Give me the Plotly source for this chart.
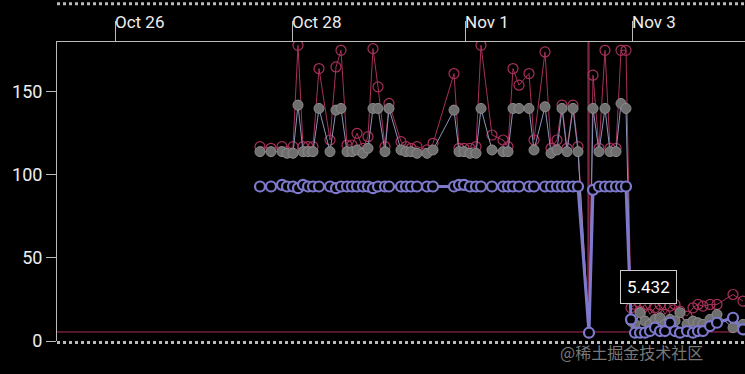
import plotly.graph_objects as go

# time positions (arbitrary time units along the axis)
t = [20.3, 21.4, 22.5, 23.0, 23.6, 24.1, 24.6, 25.1, 25.6, 26.2, 27.3, 27.9, 28.4, 29.0, 29.5,
     30.0, 30.6, 31.1, 31.6, 32.1, 32.8, 33.2, 34.4, 34.9, 35.4, 36.0, 37.0, 37.6, 39.7, 40.2,
     40.7, 41.3, 41.9, 42.4, 43.5, 44.6, 45.1, 45.6, 46.2, 47.2, 47.7, 48.8, 49.4, 50.0, 50.5,
     51.0, 51.6, 52.1, 53.2, 53.6, 54.2, 54.8, 55.3, 55.9, 56.4, 56.9,
     57.4, 57.8, 58.3, 58.8, 59.3, 59.8, 60.3, 60.8, 61.3, 61.8, 62.3, 63.0, 63.6, 64.1, 64.6,
     65.3, 66.0, 67.6, 68.6]

red = [117, 116, 117, 114, 117, 178, 117, 117, 117, 164, 121, 165, 175, 118, 118,
       125, 116, 123, 176, 153, 117, 143, 120, 117, 116, 117, 115, 119, 161, 116,
       116, 116, 117, 178, 124, 121, 117, 164, 154, 161, 121, 174, 116, 121, 142,
       116, 142, 117, 5, 160, 116, 175, 116, 116, 175, 175,
       20, 22, 18, 22, 16, 20, 22, 16, 21, 22, 18, 15, 20, 22, 21,
       22, 22, 28, 24]

gray = [114, 114, 114, 113, 113, 142, 114, 114, 114, 140, 114, 139, 140, 114, 114,
        115, 113, 116, 140, 140, 114, 140, 115, 114, 114, 113, 113, 115, 139, 114,
        114, 113, 113, 140, 115, 114, 114, 140, 140, 140, 115, 141, 113, 115, 140,
        114, 140, 114, 5, 140, 114, 140, 114, 114, 143, 140,
        12, 10, 17, 12, 10, 13, 14, 10, 13, 12, 17, 10, 12, 11, 10,
        13, 16, 8, 10]

purple = [93, 93, 94, 93, 93, 92, 94, 93, 93, 93, 93, 92, 93, 93, 93,
          93, 93, 93, 92, 93, 93, 93, 93, 93, 93, 93, 93, 93, 93, 94,
          94, 93, 93, 93, 93, 93, 93, 93, 93, 93, 93, 93, 93, 93, 93,
          93, 93, 93, 5, 91, 93, 93, 93, 93, 93, 93,
          13, 5, 5, 5, 6, 8, 6, 6, 11, 6, 5, 6, 5, 6, 6,
          9, 11, 14, 7]

# red spike that shoots off the top of the chart at the dip
spike_t = [52.1, 53.1, 53.15, 53.2]
spike_v = [117, 5, 3000, 5]

tick_pos = [5.8, 23.5, 40.8, 57.5]
tick_text = ["Oct 26", "Oct 28", "Nov 1", "Nov 3"]

threshold = 5.432
tooltip_t = 59.1
tooltip_v = 32.5

RED = "#a8305a"
GRAY_LINE = "#8a96b8"
PURPLE = "#7d79cc"

fig = go.Figure()

fig.add_trace(go.Scatter(x=spike_t, y=spike_v, mode="lines",
                         line=dict(color=RED, width=1), hoverinfo="skip", showlegend=False))
fig.add_trace(go.Scatter(x=t, y=red, mode="lines+markers",
                         line=dict(color=RED, width=1),
                         marker=dict(size=10, color="rgba(0,0,0,0)", line=dict(color=RED, width=1.2)),
                         showlegend=False))
fig.add_trace(go.Scatter(x=t, y=gray, mode="lines+markers",
                         line=dict(color=GRAY_LINE, width=1),
                         marker=dict(size=10, color="#6e6e6e", line=dict(color="#8c8c8c", width=1)),
                         showlegend=False))
fig.add_trace(go.Scatter(x=t, y=purple, mode="lines+markers",
                         line=dict(color=PURPLE, width=3),
                         marker=dict(size=10, color="#000000", line=dict(color=PURPLE, width=2.2)),
                         showlegend=False))

# threshold line
fig.add_shape(type="line", xref="paper", x0=0, x1=1, yref="y", y0=threshold, y1=threshold,
              line=dict(color=RED, width=1), layer="below")
# dotted brush-like bands at bottom and top
fig.add_shape(type="line", xref="paper", x0=0, x1=1, yref="paper", y0=-0.005, y1=-0.005,
              line=dict(color="#bbbbbb", width=3, dash="dot"))
fig.add_shape(type="line", xref="paper", x0=0, x1=1, yref="paper", y0=1.128, y1=1.128,
              line=dict(color="#bbbbbb", width=3, dash="dot"))

annotations = []
for p, s in zip(tick_pos, tick_text):
    annotations.append(dict(x=p, xref="x", y=1.067, yref="paper", text=s, showarrow=False,
                            xanchor="left", yanchor="middle", xshift=-2,
                            font=dict(family="Roboto", size=17, color="#eeeeee")))
annotations.append(dict(x=tooltip_t, xref="x", y=tooltip_v, yref="y", text=str(threshold),
                        showarrow=False, xanchor="center", yanchor="middle", bgcolor="#000000",
                        bordercolor="#cccccc", borderwidth=1, borderpad=6,
                        font=dict(family="Roboto", size=17, color="#ffffff")))
annotations.append(dict(x=0.835, xref="paper", y=-0.037, yref="paper", text="@稀土掘金技术社区",
                        showarrow=False, xanchor="center", yanchor="middle",
                        font=dict(family="Noto Sans CJK SC", size=16, color="rgba(160,160,160,0.75)")))

fig.update_layout(
    width=745, height=374,
    margin=dict(l=57, r=0, t=42, b=33),
    paper_bgcolor="#000000", plot_bgcolor="#000000",
    annotations=annotations,
    hovermode=False,
    xaxis=dict(range=[0, 68.8], side="top", showgrid=False, zeroline=False,
               showline=True, linecolor="#bbbbbb", linewidth=1,
               tickvals=tick_pos, ticktext=tick_text, showticklabels=False,
               ticks="outside", ticklen=20, tickcolor="#bbbbbb", tickwidth=1),
    yaxis=dict(range=[0, 180], showgrid=False, zeroline=False,
               showline=True, linecolor="#bbbbbb", linewidth=1,
               tickvals=[0, 50, 100, 150], ticks="outside", ticklen=10, tickcolor="#bbbbbb",
               tickfont=dict(family="Roboto", size=18, color="#eeeeee")),
    font=dict(family="Roboto"),
)

fig.write_html("out.html",
               config={"displayModeBar": False, "staticPlot": True},
               post_script="document.body.style.margin='0';document.body.style.background='#000';"
                           "document.body.style.overflow='hidden';")
